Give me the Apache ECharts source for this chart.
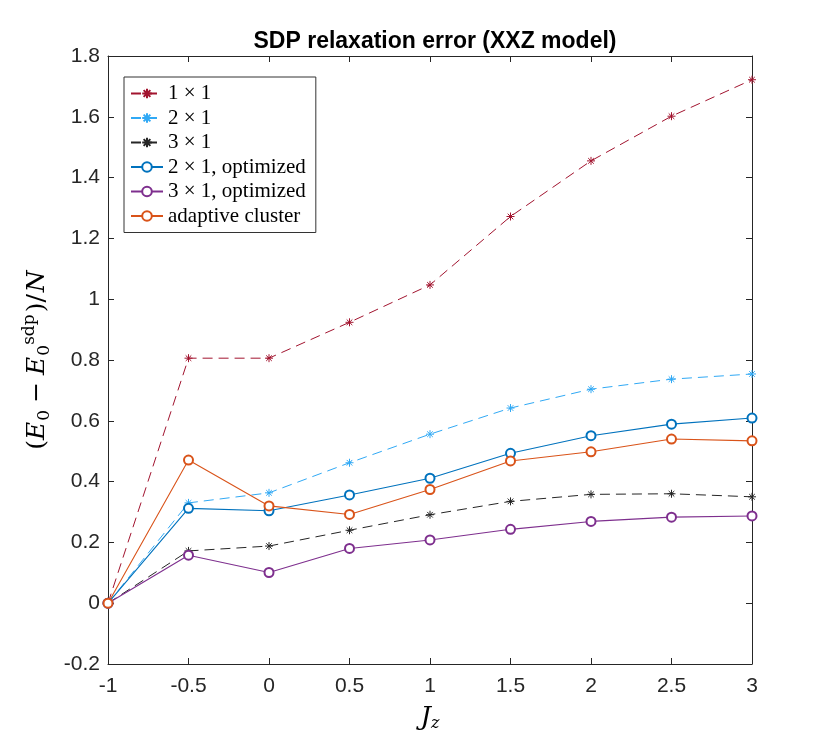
<!DOCTYPE html>
<html>
<head>
<meta charset="utf-8">
<script src="https://cdn.jsdelivr.net/npm/echarts@6/dist/echarts.min.js"></script>
<style>
html, body { margin: 0; padding: 0; background: #fff; }
#chart { width: 830px; height: 747px; }
</style>
</head>
<body>
<div id="chart"></div>
<script>
// Jz values on the x axis
var jz = [-1, -0.5, 0, 0.5, 1, 1.5, 2, 2.5, 3];

// relaxation error per site
var err1x1 = [0, 0.806, 0.806, 0.924, 1.047, 1.272, 1.455, 1.602, 1.722];
var err2x1 = [0, 0.330, 0.363, 0.462, 0.556, 0.642, 0.704, 0.737, 0.754];
var err3x1 = [0, 0.172, 0.188, 0.240, 0.291, 0.335, 0.358, 0.360, 0.350];
var err2x1opt = [0, 0.312, 0.304, 0.356, 0.411, 0.493, 0.551, 0.589, 0.609];
var err3x1opt = [0, 0.158, 0.101, 0.180, 0.208, 0.243, 0.269, 0.283, 0.287];
var errAdaptive = [0, 0.471, 0.320, 0.292, 0.374, 0.468, 0.498, 0.540, 0.534];

var seriesNames = ['1 \u00d7 1', '2 \u00d7 1', '3 \u00d7 1', '2 \u00d7 1, optimized', '3 \u00d7 1, optimized', 'adaptive cluster'];

var chartDom = document.getElementById('chart');
var myChart = echarts.init(chartDom);

// asterisk marker like matlab '*'
var star = 'path://M0,-10L0,10M-10,0L10,0M-7,-7L7,7M-7,7L7,-7';

function pairs(ys) {
    return jz.map(function (x, i) { return [x, ys[i]]; });
}

function starSeries(name, ys, color) {
    return {
        name: name,
        type: 'line',
        data: pairs(ys),
        symbol: star,
        symbolSize: 8,
        showAllSymbol: true,
        lineStyle: { color: color, width: 1, type: [10, 6] },
        itemStyle: { color: color, borderColor: color, borderWidth: 1 },
        emphasis: { disabled: true },
        animation: false
    };
}

function circleSeries(name, ys, color) {
    return {
        name: name,
        type: 'line',
        data: pairs(ys),
        symbol: 'emptyCircle',
        symbolSize: 9,
        showAllSymbol: true,
        lineStyle: { color: color, width: 1.1 },
        itemStyle: { color: color, borderColor: color, borderWidth: 1 },
        emphasis: { disabled: true },
        animation: false
    };
}

var axisColor = '#262626';
var tickFont = { color: axisColor, fontSize: 21, fontFamily: 'Liberation Sans' };
var fmt = function (v) { return String(Math.round(v * 10) / 10); };
var axisLineStyle = { show: true, onZero: false, lineStyle: { color: axisColor, width: 1 } };
var tickStyle = { show: true, inside: true, length: 6, lineStyle: { color: axisColor } };

var option = {
    backgroundColor: '#fff',
    title: {
        text: 'SDP relaxation error (XXZ model)',
        left: 430,
        top: 25,
        textAlign: 'center',
        textStyle: { fontFamily: 'Liberation Sans', fontWeight: 'bold', fontSize: 23, color: '#000' }
    },
    grid: { left: 108, right: 78, top: 56, bottom: 83 },
    legend: {
        orient: 'vertical',
        left: 124,
        top: 77,
        padding: [6, 10, 6, 6],
        itemGap: 3.5,
        itemWidth: 32,
        itemHeight: 12,
        backgroundColor: '#fff',
        borderColor: '#333',
        borderWidth: 1,
        borderRadius: 0,
        textStyle: { fontFamily: 'Liberation Serif', fontSize: 21, color: '#000', lineHeight: 21 },
        data: seriesNames
    },
    xAxis: [{
        type: 'value',
        min: -1, max: 3, interval: 0.5,
        name: '{i|J}{s|z}',
        nameLocation: 'middle',
        nameGap: 40,
        nameTextStyle: {
            rich: {
                i: { fontFamily: 'DejaVu Serif', fontStyle: 'italic', fontSize: 26, color: '#000' },
                s: { fontFamily: 'DejaVu Serif', fontStyle: 'italic', fontSize: 16, color: '#000', padding: [12, 0, 0, 0] }
            }
        },
        axisLine: axisLineStyle,
        axisTick: tickStyle,
        axisLabel: Object.assign({ margin: 12, formatter: fmt }, tickFont),
        splitLine: { show: false }
    }, {
        type: 'value',
        position: 'top',
        min: -1, max: 3, interval: 0.5,
        axisLine: axisLineStyle,
        axisTick: tickStyle,
        axisLabel: { show: false },
        splitLine: { show: false }
    }],
    yAxis: [{
        type: 'value',
        min: -0.2, max: 1.8, interval: 0.2,
        name: '({e|E}{sb|0}{m|\u2212}{e|E}{sb|0}{sp|sdp}{p|)/}{e|N}',
        nameLocation: 'middle',
        nameGap: 52,
        nameTextStyle: {
            fontFamily: 'DejaVu Serif', fontSize: 25, color: '#000',
            rich: {
                e: { fontFamily: 'DejaVu Serif', fontStyle: 'italic', fontSize: 25, color: '#000' },
                m: { fontFamily: 'DejaVu Serif', fontSize: 25, color: '#000', padding: [0, 7, 0, 7] },
                p: { fontFamily: 'DejaVu Serif', fontSize: 25, color: '#000', padding: [0, 2, 0, 2] },
                sb: { fontFamily: 'DejaVu Serif', fontSize: 17, color: '#000', padding: [13, 0, 0, 1] },
                sp: { fontFamily: 'DejaVu Serif', fontSize: 17, color: '#000', padding: [0, 0, 17, 0] }
            }
        },
        axisLine: axisLineStyle,
        axisTick: tickStyle,
        axisLabel: Object.assign({ margin: 8, formatter: fmt }, tickFont),
        splitLine: { show: false }
    }, {
        type: 'value',
        position: 'right',
        min: -0.2, max: 1.8, interval: 0.2,
        axisLine: axisLineStyle,
        axisTick: tickStyle,
        axisLabel: { show: false },
        splitLine: { show: false }
    }],
    series: [
        starSeries(seriesNames[0], err1x1, '#A2142F'),
        starSeries(seriesNames[1], err2x1, '#30A9F5'),
        starSeries(seriesNames[2], err3x1, '#262626'),
        circleSeries(seriesNames[3], err2x1opt, '#0072BD'),
        circleSeries(seriesNames[4], err3x1opt, '#7E2F8E'),
        circleSeries(seriesNames[5], errAdaptive, '#D95319')
    ]
};

option && myChart.setOption(option);
</script>
</body>
</html>
